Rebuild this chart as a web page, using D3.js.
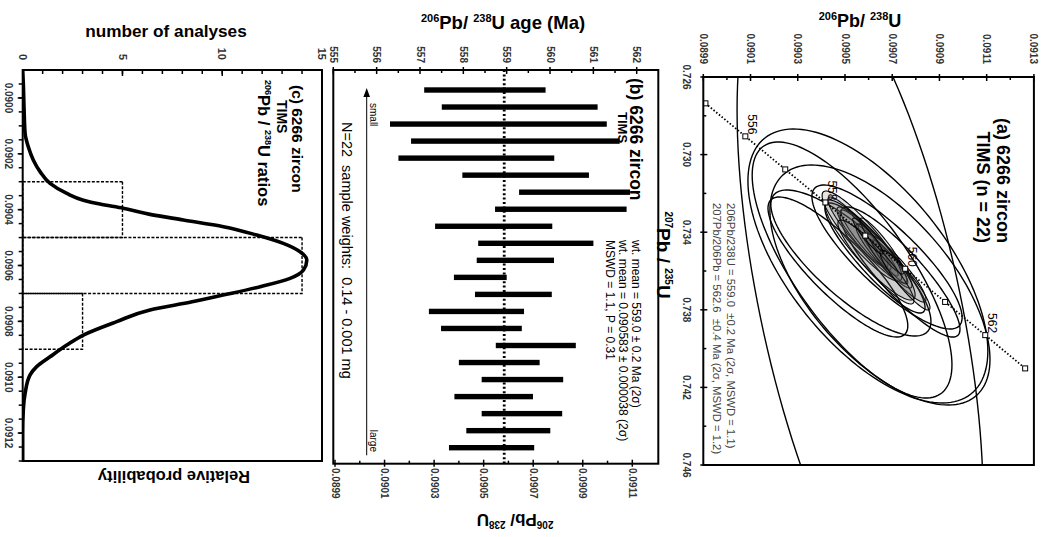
<!DOCTYPE html>
<html>
<head>
<meta charset="utf-8">
<script src="https://cdn.jsdelivr.net/npm/d3@7"></script>
<style>
body{margin:0;background:#fff}
svg{display:block;font-family:"Liberation Sans",Arial,sans-serif}
</style>
</head>
<body>
<svg id="chart" width="1048" height="537"></svg>
<script>
// (a) concordia ellipses, centres and 2 sigma errors
const ellR207 = [0.737753,0.735742,0.735948,0.736722,0.735278,0.735588,0.735794,0.736052,0.735330,
  0.733990,0.734402,0.734660,0.734918,0.735227,0.735536,0.734196,0.735845,0.734918,0.734711,0.735536,0.736464,0.734196]
const ellR206 = [0.090564,0.090597,0.090530,0.090648,0.090678,0.090525,0.090470,0.090733,0.090627,
  0.090555,0.090589,0.090614,0.090640,0.090665,0.090690,0.090572,0.090716,0.090606,0.090657,0.090631,0.090754,0.090597]
const ellE207 = [0.01804,0.007062,0.006598,0.006186,0.003711,0.003763,0.003608,0.003351,0.002835,
  0.001804,0.001546,0.001959,0.001340,0.001649,0.001134,0.002320,0.001753,0.002577,0.001443,0.002165,0.001546,0.000928]
const ellE206 = [0.000521,0.000508,0.000423,0.000466,0.000318,0.000339,0.000296,0.000254,0.000212,
  0.000127,0.000106,0.000148,0.000085,0.000119,0.000076,0.000169,0.000127,0.000191,0.000093,0.000161,0.000106,0.000064]
const ellRho = [0.557,0.62,0.74,0.62,0.84,0.80,0.84,0.88,0.90,
  0.92,0.93,0.92,0.94,0.92,0.92,0.90,0.92,0.90,0.93,0.92,0.92,0.93]

// concordia age marks (Ma)
const concAges = [555,556,557,558,559,560,561,562,563]
const concR207 = [0.727357,0.729059,0.730763,0.732468,0.734175,0.735884,0.737594,0.739306,0.741020]
const concR206 = [0.089909,0.090078,0.090247,0.090417,0.090586,0.090755,0.090924,0.091094,0.091263]
const concLabels = [556,558,560,562]

// (b) single analyses 206Pb/238U, 2 sigma range
const barLow = [0.090260,0.090331,0.090122,0.090207,0.090156,0.090414,0.090643,0.090546,0.090304,0.090478,0.090472,
  0.090380,0.090465,0.090279,0.090328,0.090549,0.090400,0.090492,0.090382,0.090492,0.090430,0.090360]
const barHigh = [0.090750,0.090960,0.090997,0.091049,0.090785,0.090925,0.091091,0.091077,0.090777,0.090943,0.090784,
  0.090593,0.090775,0.090663,0.090654,0.090872,0.090726,0.090821,0.090699,0.090817,0.090769,0.090704]
const wtMean = 0.090583

// (c) histogram + relative probability
const binEdges = [0.0903,0.0905,0.0907,0.0909]
const binCounts = [5,14,3]
const probRatio = [0.0899,0.089948,0.090043,0.090127,0.090175,0.090222,0.090264,0.090306,0.090342,0.090366,0.090380,
  0.090395,0.090417,0.090437,0.090461,0.090491,0.090521,0.090551,0.090580,0.090616,0.090646,0.090676,0.090706,
  0.090730,0.090759,0.090801,0.090849,0.090885,0.090927,0.090962,0.090992,0.091058,0.091117,0.091201,0.0913]
const probValue = [0,0.03,0.07,0.12,0.28,0.53,0.87,1.37,2.21,3.04,3.87,5.04,6.38,8.05,10.06,11.73,13.06,13.90,14.24,
  14.07,13.40,11.9,10.04,8.49,6.38,4.71,3.04,2.21,1.37,0.70,0.37,0.12,0.03,0,0]

// tick labels
const aXTicks = [0.726,0.730,0.734,0.738,0.742,0.746]
const aYTicks = [0.0899,0.0901,0.0903,0.0905,0.0907,0.0909,0.0911,0.0913]
const bAgeTicks = [555,556,557,558,559,560,561,562]
const bRatioTicks = [0.0899,0.0901,0.0903,0.0905,0.0907,0.0909,0.0911]
const cRatioTicks = [0.0900,0.0902,0.0904,0.0906,0.0908,0.0910,0.0912]
const cCountTicks = [0,5,10,15]

const svg = d3.select("#chart")
// whole figure is laid out upright (537 wide, 1048 tall) and turned a quarter clockwise
const fig = svg.append("g").attr("transform","translate(1048,0) rotate(90)")

const f4 = d3.format(".4f"), f3 = d3.format(".3f")

function ticksX(g, sc, vals, y, up, down){
  g.selectAll(null).data(vals).enter().append("line")
    .attr("x1", d=>sc(d)).attr("x2", d=>sc(d))
    .attr("y1", y-up).attr("y2", y+down)
    .attr("stroke","#000").attr("stroke-width",1.5)
}
function ticksY(g, sc, vals, x, left, right){
  g.selectAll(null).data(vals).enter().append("line")
    .attr("y1", d=>sc(d)).attr("y2", d=>sc(d))
    .attr("x1", x-left).attr("x2", x+right)
    .attr("stroke","#000").attr("stroke-width",1.5)
}
// text with superscript parts: [["206",1],["Pb",0]]
function rich(g, parts, big, small, shift){
  let t = g.append("text").attr("font-weight","bold")
  let up = false
  parts.forEach(p=>{
    let dy = 0
    if(p[1] && !up){dy=-shift; up=true}
    else if(!p[1] && up){dy=shift; up=false}
    t.append("tspan").attr("font-size", p[1]?small:big).attr("dy", dy).text(p[0])
  })
  return t
}
function label(g, x, y, txt, size, anchor, weight){
  return g.append("text").attr("x",x).attr("y",y).attr("font-size",size)
    .attr("text-anchor",anchor||"start").attr("font-weight",weight||"normal").text(txt)
}

// ---------- panel (a) ----------
const xA = d3.scaleLinear().domain([0.726,0.746]).range([77,465])
const yA = d3.scaleLinear().domain([0.0899,0.0913]).range([344.7,14.1])
const pa = fig.append("g")
pa.append("clipPath").attr("id","clipA").append("rect")
  .attr("x",77).attr("y",14.1).attr("width",388).attr("height",330.6)

let ellLine = d3.line().x(d=>xA(d[0])).y(d=>yA(d[1]))
let ellG = pa.append("g").attr("clip-path","url(#clipA)")
ellR207.forEach((c,i)=>{
  let pts = []
  for(let k=0;k<=140;k++){
    let t = k/140*2*Math.PI
    let r = ellRho[i]
    pts.push([c+ellE207[i]*(r*Math.cos(t)+Math.sqrt(1-r*r)*Math.sin(t)), ellR206[i]+ellE206[i]*Math.cos(t)])
  }
  ellG.append("path").attr("d", ellLine(pts))
    .attr("fill", i>8 ? "rgba(90,90,90,0.16)" : "none")
    .attr("stroke","#000").attr("stroke-width", i>8 ? 1.1 : 1.4)
})

// concordia
ellG.append("path")
  .attr("d", d3.line().x(d=>xA(concR207[d])).y(d=>yA(concR206[d]))(d3.range(concAges.length)))
  .attr("fill","none").attr("stroke","#000").attr("stroke-width",1.8).attr("stroke-dasharray","1.5,2")
ellG.selectAll(null).data(d3.range(concAges.length)).enter().append("rect")
  .attr("x", d=>xA(concR207[d])-2.5).attr("y", d=>yA(concR206[d])-2.5)
  .attr("width",5).attr("height",5).attr("fill","#fff").attr("stroke","#000").attr("stroke-width",1)
concLabels.forEach(a=>{
  let i = concAges.indexOf(a)
  label(pa, xA(concR207[i])-2, yA(concR206[i])-3, a, 12, "end")
})

pa.append("rect").attr("x",77).attr("y",14.1).attr("width",388).attr("height",330.6)
  .attr("fill","none").attr("stroke","#000").attr("stroke-width",2)
ticksX(pa, xA, aXTicks, 344.7, 4, 3)
ticksX(pa, xA, d3.range(0.728,0.746,0.004), 344.7, 3, 0)
ticksY(pa, yA, aYTicks, 77, 3, 4)
ticksY(pa, yA, d3.range(0.0900,0.0913,0.0002), 77, 0, 3)
pa.selectAll(null).data(aXTicks).enter().append("text")
  .attr("x", d=>xA(d)).attr("y",365).attr("text-anchor","middle")
  .attr("font-size",10).attr("font-weight","bold").attr("fill","#333").text(f3)
pa.selectAll(null).data(aYTicks).enter().append("text")
  .attr("x",64).attr("y", d=>yA(d)).attr("dy","0.35em").attr("text-anchor","end")
  .attr("font-size",10).attr("font-weight","bold").attr("fill","#333").text(f4)

rich(pa, [["206",1],["Pb/ ",0],["238",1],["U",0]], 18, 11, 7)
  .attr("transform","translate(27,188) rotate(-90)").attr("text-anchor","middle")
rich(pa, [["207",1],["Pb / ",0],["235",1],["U",0]], 19, 10, 8)
  .attr("transform","translate(255,391)").attr("text-anchor","middle")

label(pa, 243, 51, "(a) 6266 zircon", 18, "end", "bold")
label(pa, 243, 71, "TIMS (n = 22)", 18, "end", "bold")
label(pa, 203, 321, "206Pb/238U = 559.0 \u00a0\u00b10.2 Ma (2\u03c3, MSWD = 1.1)", 11.3).attr("fill","#444")
label(pa, 203, 335, "207Pb/206Pb = 562.6 \u00a0\u00b10.4 Ma (2\u03c3, MSWD = 1.2)", 11.3).attr("fill","#444")

// ---------- panel (b) ----------
const xB = d3.scalePoint().domain(d3.range(1,23)).range([90,447.7])
const yB = d3.scaleLinear().domain([0.0899,0.0911]).range([713,415.7])
const ageB = d3.scaleLinear().domain([555,562]).range([714.7,411.3])
const pb = fig.append("g")

pb.selectAll(null).data(barLow).enter().append("rect")
  .attr("x",(d,i)=>xB(i+1)-2.7).attr("width",5.4)
  .attr("y",(d,i)=>yB(barHigh[i])).attr("height",(d,i)=>yB(d)-yB(barHigh[i]))
  .attr("fill","#000")
pb.append("line").attr("x1",70).attr("x2",463.7).attr("y1",yB(wtMean)).attr("y2",yB(wtMean))
  .attr("stroke","#000").attr("stroke-width",2.8).attr("stroke-dasharray","2,2.4")

pb.append("rect").attr("x",70).attr("y",389.7).attr("width",393.7).attr("height",325)
  .attr("fill","none").attr("stroke","#000").attr("stroke-width",2)
ticksY(pb, ageB, bAgeTicks, 70, 3, 4)
ticksY(pb, ageB, d3.range(555.5,562,1), 70, 0, 3)
ticksY(pb, yB, bRatioTicks, 463.7, 4, 3)
ticksY(pb, yB, d3.range(0.0900,0.0911,0.0002), 463.7, 3, 0)
pb.selectAll(null).data(bAgeTicks).enter().append("text")
  .attr("x",63).attr("y", d=>ageB(d)).attr("dy","0.35em").attr("text-anchor","end")
  .attr("font-size",10).attr("font-weight","bold").attr("fill","#333").text(d=>d)
pb.selectAll(null).data(bRatioTicks).enter().append("text")
  .attr("x",468).attr("y", d=>yB(d)).attr("dy","0.35em")
  .attr("font-size",10).attr("font-weight","bold").attr("fill","#333").text(f4)

rich(pb, [["206",1],["Pb/ ",0],["238",1],["U age  (Ma)",0]], 18.5, 11, 7)
  .attr("transform","translate(29,545) rotate(-90)").attr("text-anchor","middle")
rich(pb, [["206",1],["Pb/ ",0],["238",1],["U",0]], 17, 10, 7)
  .attr("transform","translate(514,533) rotate(90)").attr("text-anchor","middle")

label(pb, 78, 418, "(b) 6266 zircon", 17.5, "start", "bold")
label(pb, 112, 430, "TIMS", 13, "start", "bold")
label(pb, 240, 416, "wt. mean = 559.0 \u00b1 0.2 Ma (2\u03c3)", 12)
label(pb, 240, 429, "wt. mean = 0.090583 \u00b1 0.000038 (2\u03c3)", 12)
label(pb, 240, 442, "MSWD = 1.1, P = 0.31", 12)

// sample weight arrow
pb.append("line").attr("x1",455.3).attr("x2",94).attr("y1",681.3).attr("y2",681.3)
  .attr("stroke","#000").attr("stroke-width",1)
pb.append("path").attr("d","M88,681.3L97,678L97,684.6Z").attr("fill","#000")
label(pb, 103, 678, "small", 10)
label(pb, 452, 678, "large", 10, "end")
label(pb, 122, 706, "N=22 \u00a0sample weights: \u00a00.14 - 0.001 mg", 14.5)

// ---------- panel (c) ----------
const xC = d3.scaleLinear().domain([0.0899,0.0913]).range([70,461])
const yC = d3.scaleLinear().domain([0,15]).range([1025.3,726])
const pc = fig.append("g")
pc.append("clipPath").attr("id","clipC").append("rect")
  .attr("x",70).attr("y",726).attr("width",391).attr("height",299.3)

pc.selectAll(null).data(binCounts).enter().append("rect")
  .attr("x",(d,i)=>xC(binEdges[i])).attr("width",(d,i)=>xC(binEdges[i+1])-xC(binEdges[i]))
  .attr("y",d=>yC(d)).attr("height",d=>yC(0)-yC(d))
  .attr("fill","none").attr("stroke","#000").attr("stroke-width",1.4).attr("stroke-dasharray","3,1.6")
pc.append("path").attr("clip-path","url(#clipC)")
  .attr("d", d3.line().curve(d3.curveMonotoneX).x(d=>xC(d[0])).y(d=>yC(d[1]))(probRatio.map((r,i)=>[r,probValue[i]])))
  .attr("fill","none").attr("stroke","#000").attr("stroke-width",3.6)

pc.append("rect").attr("x",70).attr("y",726).attr("width",391).attr("height",299.3)
  .attr("fill","none").attr("stroke","#000").attr("stroke-width",2)
ticksY(pc, yC, cCountTicks, 70, 0, 6)
ticksY(pc, yC, d3.range(1,15), 70, 0, 4)
ticksX(pc, xC, cRatioTicks, 1025.3, 0, 5)
ticksX(pc, xC, d3.range(0.08995,0.0913,0.00005), 1025.3, 0, 4)
pc.selectAll(null).data(cCountTicks).enter().append("text")
  .attr("x",60).attr("y", d=>yC(d)).attr("dy","0.35em").attr("text-anchor","end")
  .attr("font-size",11).attr("font-weight","bold").attr("fill","#333").text(d=>d)
pc.selectAll(null).data(cRatioTicks).enter().append("text")
  .attr("x", d=>xC(d)).attr("y",1043).attr("text-anchor","middle")
  .attr("font-size",10).attr("font-weight","bold").attr("fill","#333").text(f4)

label(pc, 0, 0, "number of analyses", 17.2, "middle", "bold").attr("transform","translate(37,882) rotate(-90)")
label(pc, 0, 0, "Relative probability", 16.5, "middle", "bold").attr("transform","translate(471,874) rotate(90)")
label(pc, 85, 756, "(c) 6266 zircon", 15.5, "start", "bold")
label(pc, 100, 771, "TIMS", 14, "start", "bold")
rich(pc, [["206",1],["Pb / ",0],["238",1],["U ratios",0]], 16.5, 9, 7)
  .attr("transform","translate(80,790)")
</script>
</body>
</html>
